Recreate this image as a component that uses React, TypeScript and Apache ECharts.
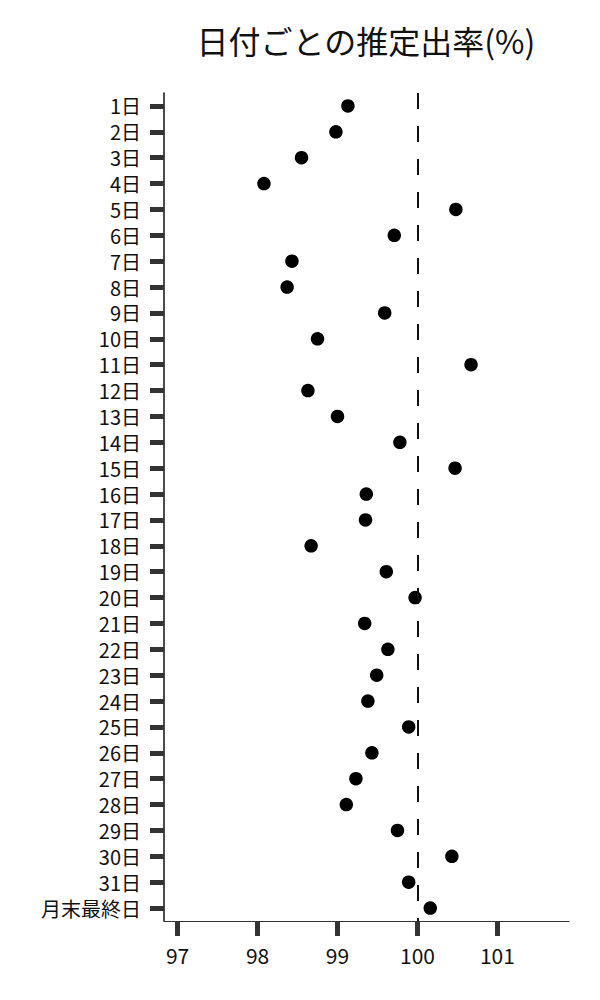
import {useEffect, useRef} from 'react';
import * as echarts from 'echarts';

const days = [
    '1日', '2日', '3日', '4日', '5日', '6日', '7日', '8日', '9日', '10日',
    '11日', '12日', '13日', '14日', '15日', '16日', '17日', '18日', '19日', '20日',
    '21日', '22日', '23日', '24日', '25日', '26日', '27日', '28日', '29日', '30日',
    '31日', '月末最終日',
];

const rates = [
    99.13, 98.98, 98.55, 98.08, 100.48, 99.71, 98.43, 98.37, 99.59, 98.75,
    100.67, 98.63, 99.0, 99.78, 100.47, 99.36, 99.35, 98.67, 99.61, 99.97,
    99.34, 99.63, 99.49, 99.38, 99.89, 99.43, 99.23, 99.11, 99.75, 100.43,
    99.89, 100.16,
];

const xTicks = [97, 98, 99, 100, 101];
const referenceLine = 100;

const font = '"Noto Sans CJK JP", "Noto Sans", sans-serif';

const App = () => {
    const chartRef = useRef<HTMLDivElement>(null);

    useEffect(() => {
        document.body.style.margin = '0';
        const chart = echarts.init(chartRef.current!, null, {renderer: 'svg'});

        chart.setOption({
            animation: false,
            textStyle: {fontFamily: font},
            title: {
                text: '日付ごとの推定出率(%)',
                left: 361,
                textAlign: 'center',
                top: 19,
                textStyle: {fontFamily: font, fontSize: 32, fontWeight: 'normal', color: '#111'},
            },
            grid: {left: 164, right: 31, top: 93, bottom: 79},
            xAxis: {
                type: 'value',
                min: 96.83,
                max: 101.895,
                splitLine: {show: false},
                axisLine: {show: true, lineStyle: {color: '#333', width: 1.2}},
                axisTick: {
                    show: true,
                    customValues: xTicks,
                    length: 15,
                    lineStyle: {color: '#333', width: 5},
                },
                axisLabel: {
                    customValues: xTicks,
                    margin: 23,
                    fontSize: 21,
                    color: '#111',
                    fontFamily: font,
                },
            },
            yAxis: {
                type: 'category',
                data: days,
                inverse: true,
                axisLine: {show: true, lineStyle: {color: '#111', width: 1.5}},
                axisTick: {
                    show: true,
                    interval: 0,
                    alignWithLabel: true,
                    length: 14,
                    lineStyle: {color: '#333', width: 5},
                },
                axisLabel: {
                    interval: 0,
                    hideOverlap: false,
                    margin: 23,
                    fontSize: 20,
                    lineHeight: 20,
                    color: '#111',
                    fontFamily: font,
                },
            },
            series: [
                {
                    type: 'scatter',
                    data: rates.map((v, i) => [v, days[i]]),
                    symbolSize: 13.5,
                    itemStyle: {color: '#000', opacity: 1},
                    markLine: {
                        silent: true,
                        symbol: ['none', 'none'],
                        label: {show: false},
                        lineStyle: {color: '#111', width: 2, type: [16, 17], opacity: 1},
                        data: [{xAxis: referenceLine}],
                    },
                },
            ],
        });

        return () => {
            chart.dispose();
        };
    }, []);

    return <div ref={chartRef} style={{width: '600px', height: '1000px'}} />;
};

export default App;
